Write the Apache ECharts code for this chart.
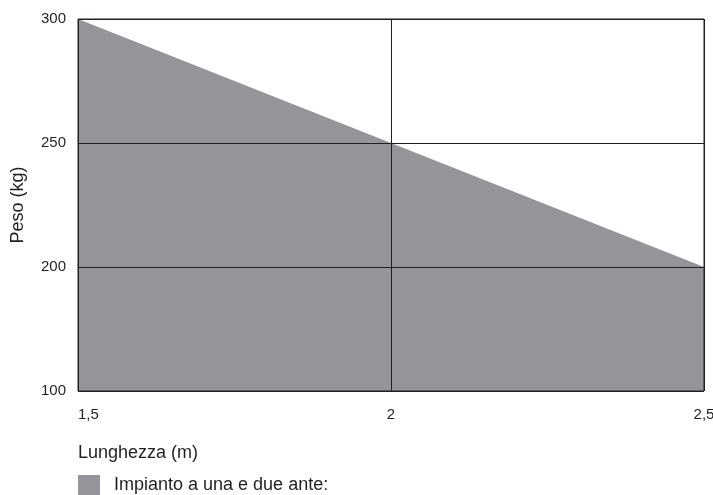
<!DOCTYPE html>
<html lang="it">
<head>
    <meta charset="UTF-8">
    <title>Peso / Lunghezza</title>
    <script src="https://cdn.jsdelivr.net/npm/echarts@6/dist/echarts.min.js"></script>
    <style>
        html, body { margin: 0; padding: 0; background: #fff; }
        #chart { width: 713px; height: 495px; }
    </style>
</head>
<body>
<div id="chart"></div>
<script>
    // dati
    var lengths = [1.5, 2, 2.5];
    var weights = [300, 250, 200];
    var yTicks = [100, 200, 250, 300];   // asse y non lineare: tacche equidistanti
    var xTicks = [1.5, 2, 2.5];

    var ink = '#231f20';
    var fill = '#939598';
    var font = '"Liberation Sans", Arial, sans-serif';

    var points = [];
    for (var i = 0; i < lengths.length; i++) {
        points.push([lengths[i], yTicks.indexOf(weights[i])]);
    }

    var myChart = echarts.init(document.getElementById('chart'));

    var option = {
        animation: false,
        textStyle: { fontFamily: font },
        grid: {
            left: 78, right: 9, top: 19, bottom: 104,
            outerBoundsMode: 'none',
            containLabel: false,
            show: true,
            borderColor: ink,
            borderWidth: 1,
            z: 5
        },
        title: {
            text: 'Lunghezza (m)',
            left: 73,
            top: 439,
            textStyle: { fontFamily: font, fontSize: 18, fontWeight: 'normal', color: ink }
        },
        legend: {
            left: 78,
            top: 475,
            padding: 0,
            icon: 'rect',
            itemWidth: 22,
            itemHeight: 20,
            textStyle: { fontFamily: font, fontSize: 18, color: ink, padding: [2, 0, 0, 9] },
            data: ['Impianto a una e due ante:']
        },
        xAxis: {
            type: 'value',
            min: xTicks[0],
            max: xTicks[xTicks.length - 1],
            interval: 0.5,
            z: 10,
            axisLine: { show: false },
            axisTick: { show: false },
            axisLabel: {
                color: ink,
                fontSize: 15,
                margin: 16,
                alignMinLabel: 'left',
                formatter: function (v) { return String(v).replace('.', ','); }
            },
            splitLine: { show: true, lineStyle: { color: ink, width: 1 } }
        },
        yAxis: {
            type: 'value',
            min: 0,
            max: yTicks.length - 1,
            interval: 1,
            z: 10,
            name: 'Peso (kg)',
            nameLocation: 'middle',
            nameGap: 51,
            nameTextStyle: { fontFamily: font, fontSize: 18, color: ink },
            axisLine: { show: false },
            axisTick: { show: false },
            axisLabel: {
                color: ink,
                fontSize: 15,
                margin: 12,
                verticalAlign: 'middle',
                formatter: function (v) { return yTicks[v]; }
            },
            splitLine: { show: true, lineStyle: { color: ink, width: 1 } }
        },
        series: [
            {
                name: 'Impianto a una e due ante:',
                type: 'line',
                data: points,
                symbol: 'none',
                itemStyle: { color: fill },
                lineStyle: { width: 0, color: fill },
                areaStyle: { color: fill, opacity: 1, origin: 'start' }
            }
        ]
    };

    myChart.setOption(option);
</script>
</body>
</html>
